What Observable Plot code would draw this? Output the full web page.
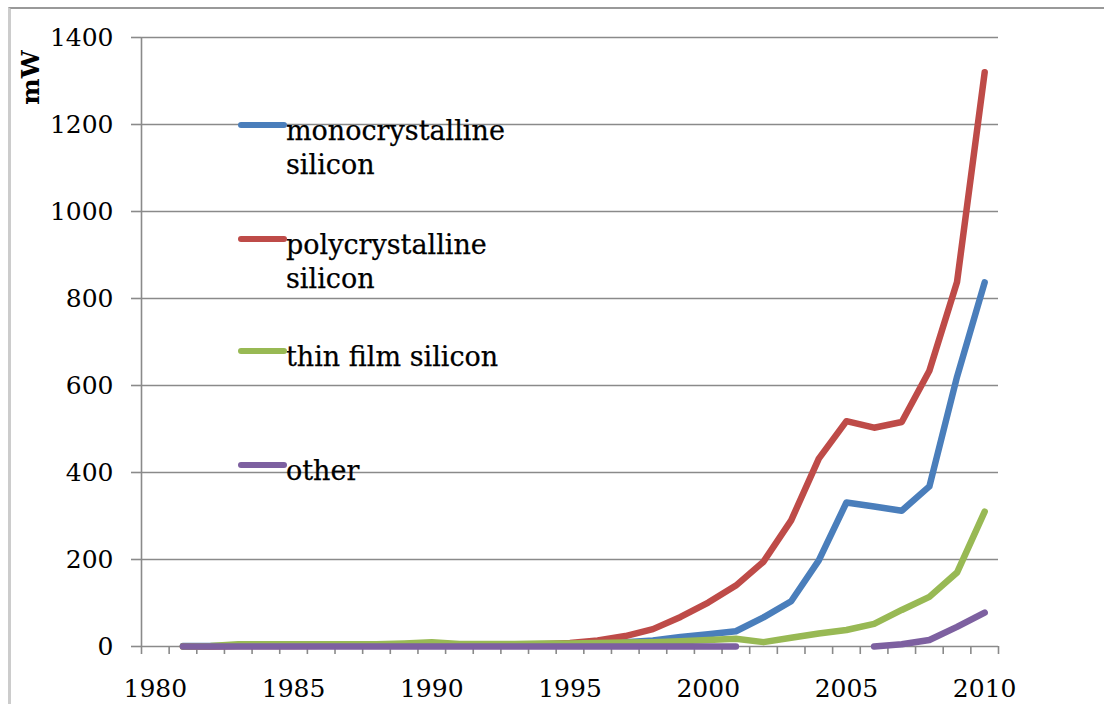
<!DOCTYPE html>
<html>
<head>
<meta charset="utf-8">
<script src="https://cdn.jsdelivr.net/npm/d3@7"></script>
<script src="https://cdn.jsdelivr.net/npm/@observablehq/plot@0.6"></script>
<style>
  html, body { margin: 0; padding: 0; background: #fff; }
  #wrap { position: relative; width: 1104px; height: 704px; overflow: hidden; font-family: "DejaVu Serif", serif; }
  #frame { position: absolute; left: 8px; top: 7px; width: 1200px; height: 800px; border-top: 2px solid #999; border-left: 3px solid #ccc; box-sizing: border-box; pointer-events: none; }
  #chart { position: absolute; left: 0; top: 0; }
  .item { position: absolute; left: 238px; font-size: 27px; line-height: 34px; color: #000; -webkit-text-stroke: 0.25px #000; }
  .item .sw { position: absolute; left: 0; width: 49px; height: 6px; border-radius: 3px; }
  .item .tx { margin-left: 48px; white-space: nowrap; }
</style>
</head>
<body>
<div id="wrap">
  <div id="frame"></div>
  <div id="chart"></div>
  <div id="legend"></div>
</div>
<script>
const years = d3.range(1981, 2011);
const mono  = [1,1,2,2,2,2,2,2,2,3,3,3,4,5,6,7,10,14,22,28,35,67,104,198,331,322,312,368,620,837];
const poly  = [0,0,1,1,1,2,2,2,2,3,3,4,4,5,8,14,24,40,68,101,140,195,290,432,518,503,516,634,838,1320];
const thin  = [0,1,5,5,5,5,5,5,7,10,6,6,6,7,7,8,9,10,12,15,18,10,20,30,38,52,84,114,170,310];
const other = [0,0,0,0,0,0,0,0,0,0,0,0,0,0,0,0,0,0,0,0,0,null,null,null,null,0,5,15,45,78];

const seriesNames = ["monocrystalline\nsilicon", "polycrystalline\nsilicon", "thin film silicon", "other"];
const seriesColors = ["#4A7EBB", "#BE4B48", "#98B954", "#7D60A0"];
const seriesValues = [mono, poly, thin, other];

const yTicks = d3.range(0, 1401, 200);
const xLabelTicks = d3.range(1980, 2011, 5);
const xBoundaries = d3.range(1979.5, 2011, 1);

const rows = [];
seriesValues.forEach((vals, si) => {
  vals.forEach((v, i) => rows.push({year: years[i], value: v, series: si}));
});

const gray = "#8a8a8a";
const font = "DejaVu Serif";

const plot = Plot.plot({
  width: 1104,
  height: 704,
  marginLeft: 141,
  marginRight: 106,
  marginTop: 37,
  marginBottom: 58,
  style: {fontFamily: font, background: "transparent", overflow: "visible"},
  x: {domain: [1979.5, 2010.5], axis: null},
  y: {domain: [0, 1400], axis: null},
  marks: [
    Plot.ruleY(yTicks, {stroke: gray, strokeWidth: 1.6}),
    Plot.ruleX([1979.5], {stroke: gray, strokeWidth: 1.6}),
    Plot.axisY(yTicks, {label: null, tickSize: 10, tickPadding: 18, stroke: gray, strokeWidth: 1.6, strokeOpacity: 1, fontSize: 25, fill: "#000", tickFormat: d => String(d)}),
    Plot.axisX(xBoundaries, {label: null, tickSize: 8, stroke: gray, strokeWidth: 1.6, strokeOpacity: 1, tickFormat: () => ""}),
    Plot.axisX(xLabelTicks, {label: null, tickSize: 0, tickPadding: 33, fontSize: 25, fill: "#000", tickFormat: d => String(d)}),
    ...seriesValues.map((vals, si) =>
      Plot.line(rows.filter(r => r.series === si), {
        x: "year", y: "value",
        stroke: seriesColors[si], strokeWidth: 6.5,
        strokeLinecap: "round", strokeLinejoin: "round"
      })
    ),
    Plot.text(["mW"], {frameAnchor: "top-left", dx: -111, dy: 40, rotate: -90, textAnchor: "middle", lineAnchor: "middle", fontSize: 25, fontWeight: "bold", fill: "#000", fontFamily: font})
  ]
});
document.getElementById("chart").appendChild(plot);

// legend (HTML overlay)
const legendTops = [114, 228, 340, 454];
const legend = document.getElementById("legend");
seriesNames.forEach((name, i) => {
  const item = document.createElement("div");
  item.className = "item";
  item.style.top = legendTops[i] + "px";
  const sw = document.createElement("div");
  sw.className = "sw";
  sw.style.background = seriesColors[i];
  sw.style.top = "8px";
  const tx = document.createElement("div");
  tx.className = "tx";
  tx.innerHTML = name.split("\n").join("<br>");
  item.appendChild(sw);
  item.appendChild(tx);
  legend.appendChild(item);
});
</script>
</body>
</html>
